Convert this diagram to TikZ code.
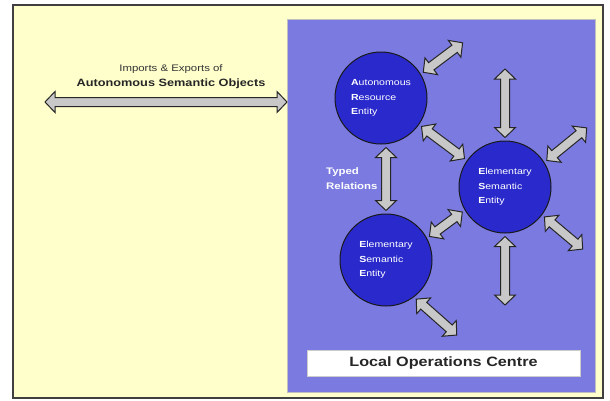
\documentclass[tikz,border=0pt]{standalone}
\usepackage{fontspec}
\setmainfont{Liberation Sans}[FakeStretch=1.2]
\usetikzlibrary{calc}
\definecolor{paleyellow}{RGB}{255,255,204}
\definecolor{panelblue}{RGB}{122,122,224}
\definecolor{entityblue}{RGB}{42,42,204}
\definecolor{arrowgray}{RGB}{200,200,200}
\tikzset{
  entity/.style={circle, draw=black!90, line width=1pt, fill=entityblue, minimum size=92pt, inner sep=0pt, text=white, align=left, font=\fontsize{8.8}{14.5}\selectfont},
  blockarrow/.style={draw=black!85, fill=arrowgray, line width=1pt, line join=miter,
    to path={let \p1=($(\tikztostart)!3pt!(\tikztotarget)$), \p2=($(\tikztotarget)!3pt!(\tikztostart)$) in
      (\p1) -- ($(\p1)!10pt!(\p2)!10.5pt!90:(\p2)$)
      -- ($(\p1)!10pt!(\p2)!4.5pt!90:(\p2)$)
      -- ($(\p2)!10pt!(\p1)!4.5pt!-90:(\p1)$)
      -- ($(\p2)!10pt!(\p1)!10.5pt!-90:(\p1)$)
      -- (\p2)
      -- ($(\p2)!10pt!(\p1)!10.5pt!90:(\p1)$)
      -- ($(\p2)!10pt!(\p1)!4.5pt!90:(\p1)$)
      -- ($(\p1)!10pt!(\p2)!4.5pt!-90:(\p2)$)
      -- ($(\p1)!10pt!(\p2)!10.5pt!-90:(\p2)$)
      -- cycle}}
}
\begin{document}
\begin{tikzpicture}[x=1pt,y=-1pt]
\useasboundingbox (0,0) rectangle (610,400);
\draw[fill=paleyellow, draw=black!75, line width=1.3pt] (13,5) rectangle (603,398);
\node[fill=panelblue, draw=black!25, line width=0.6pt, minimum width=308pt, minimum height=373pt, inner sep=0pt, anchor=north west] (panel) at (287,19) {};
\node[fill=white, draw=black!20, line width=0.5pt, minimum width=273pt, minimum height=26pt, text=black!85, font=\fontsize{13.5}{16}\selectfont\bfseries] (loc) at (443.5,363) {Local Operations Centre};

\node[entity] (ARE) at (381,98) {{\bfseries A}utonomous\\{\bfseries R}esource\\{\bfseries E}ntity};
\node[entity] (ESEr) at (505,187) {{\bfseries E}lementary\\{\bfseries S}emantic\\{\bfseries E}ntity};
\node[entity] (ESEl) at (386,260) {{\bfseries E}lementary\\{\bfseries S}emantic\\{\bfseries E}ntity};

\node[text=black!80, font=\fontsize{9.5}{11}\selectfont] (imptxt) at (171,69) {Imports \& Exports of};
\node[text=black!85, font=\fontsize{10.6}{12}\selectfont\bfseries] (asotxt) at (171,84) {Autonomous Semantic Objects};
\node[text=white, align=left, anchor=west, inner sep=0pt, font=\fontsize{9.5}{15}\selectfont\bfseries] (typed) at (326,178.5) {Typed\\Relations};

\coordinate (imp) at (42,102);
\coordinate (exp) at ($(imp -| panel.west)+(3,0)$);
\coordinate (a1) at (465,41);
\coordinate (a2) at (505,66);
\coordinate (a3) at (589,126);
\coordinate (a7) at (585,251);
\coordinate (a8) at (505,308);
\coordinate (a9) at (459,337);
\coordinate (rel) at (ESEl.north |- ARE.south);

\draw[blockarrow] (imp) to (exp);
\draw[blockarrow] (ARE.31) to (a1);
\draw[blockarrow] (ESEr.north) to (a2);
\draw[blockarrow] (ESEr.32) to (a3);
\draw[blockarrow] (ARE.-35) to (ESEr.145);
\draw[blockarrow] (rel) to (ESEl.north);
\draw[blockarrow] (ESEl.28) to (ESEr.210);
\draw[blockarrow] (ESEr.-37) to (a7);
\draw[blockarrow] (ESEr.south) to (a8);
\draw[blockarrow] (ESEl.-53) to (a9);
\end{tikzpicture}
\end{document}
